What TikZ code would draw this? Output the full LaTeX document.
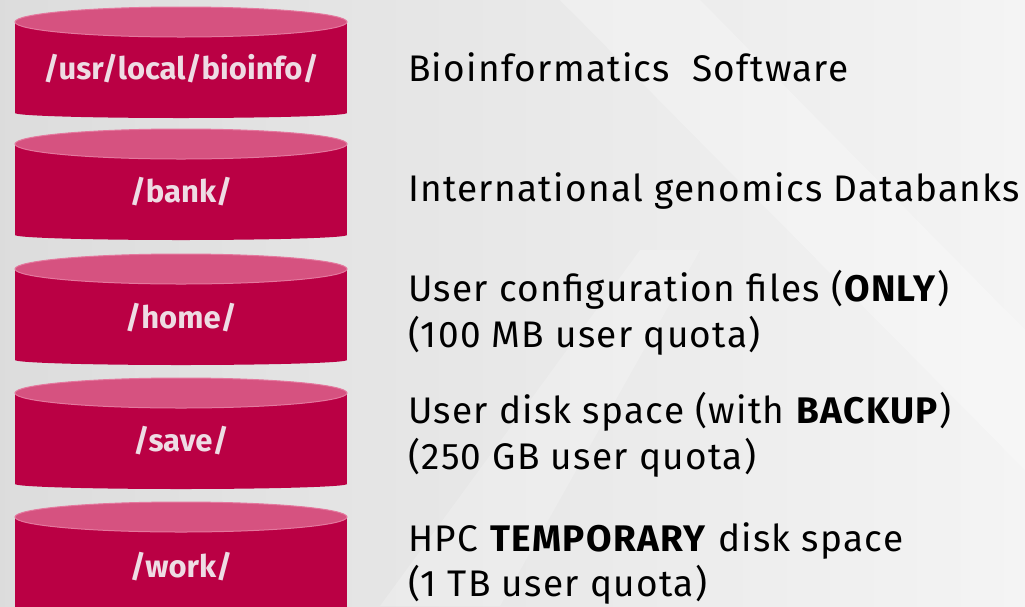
\documentclass[tikz,border=0pt]{standalone}
\usepackage{fontspec}
\setmainfont{Fira Sans}
\definecolor{bg}{RGB}{232,232,232}
\definecolor{bglight}{RGB}{244,244,244}
\definecolor{cylbody}{RGB}{186,0,68}
\definecolor{cyltop}{RGB}{214,82,128}
\definecolor{cylrim}{RGB}{228,120,158}
\definecolor{cyltext}{RGB}{238,220,228}
\tikzset{
  cyllabel/.style={anchor=base, text=cyltext, font=\fontsize{31}{36}\selectfont\bfseries, inner sep=0pt},
  desc/.style={anchor=base west, inner sep=0pt, text=black, font=\fontsize{37}{48}\selectfont\addfontfeature{LetterSpace=3.5}},
}
\newcommand{\mycyl}[1]{% #1 top y
  \fill[cylbody] (15,#1+15) rectangle (347,#1+106);
  \fill[cylbody] (181,#1+106) ellipse [x radius=166, y radius=5];
  \fill[cyltop, draw=cylrim, line width=1pt] (181,#1+15) ellipse [x radius=166, y radius=15];
}
\begin{document}
\begin{tikzpicture}[x=1pt,y=-1pt]
\useasboundingbox (0,0) rectangle (1025,606);
\shade[left color=bg!95!black, right color=bglight] (0,0) rectangle (1025,606);
\fill[white, opacity=0.25] (560,0) -- (700,0) -- (1025,330) -- (1025,470) -- cycle;
\fill[white, opacity=0.2] (380,606) -- (500,606) -- (700,250) -- (640,250) -- cycle;

\mycyl{7}
\mycyl{129}
\mycyl{254}
\mycyl{378}
\mycyl{502}

\node[cyllabel] (c1) at (181,79) {/usr/local/bioinfo/};
\node[cyllabel] (c2) at (181,202) {/bank/};
\node[cyllabel] (c3) at (181,328) {/home/};
\node[cyllabel] (c4) at (181,451) {/save/};
\node[cyllabel] (c5) at (181,577) {/work/};

\node[desc] (d1) at (408,81) {Bioinformatics\ \ Software};
\node[desc] (d2) at (408,201) {International genomics Databanks};
\node[desc] (d3a) at (408,301) {User configuration files (\textbf{ONLY})};
\node[desc] (d3b) at (408,347) {(100 MB user quota)};
\node[desc] (d4a) at (408,423) {User disk space (with \textbf{BACKUP})};
\node[desc] (d4b) at (408,469) {(250 GB user quota)};
\node[desc] (d5a) at (408,551) {HPC \textbf{TEMPORARY} disk space};
\node[desc] (d5b) at (408,596) {(1 TB user quota)};
\end{tikzpicture}
\end{document}
